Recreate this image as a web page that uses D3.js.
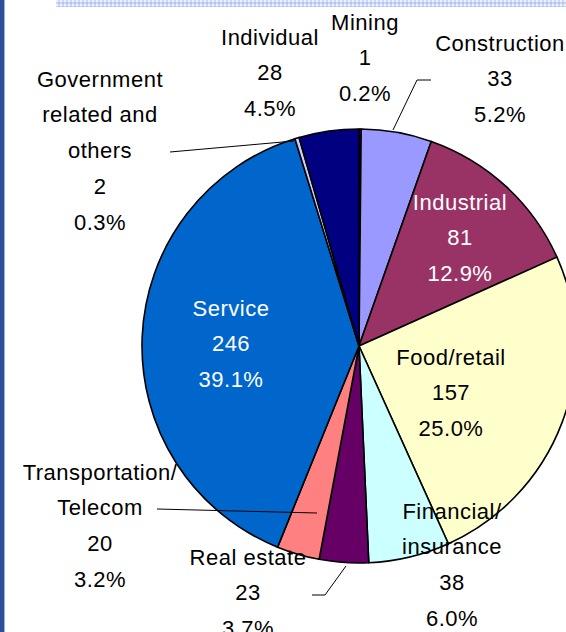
<!DOCTYPE html>
<html>
<head>
<meta charset="utf-8">
<script src="https://cdn.jsdelivr.net/npm/d3@7"></script>
<style>
  html, body { margin: 0; padding: 0; background: #ffffff; }
  svg { display: block; }
</style>
</head>
<body>
<svg id="chart" width="566" height="632"></svg>
<script>
// Sectors, clockwise from 12 o'clock
const sectors = ["Mining", "Construction", "Industrial", "Food/retail", "Financial/insurance",
                 "Real estate", "Transportation/Telecom", "Service", "Government related and others", "Individual"];
const counts  = [1, 33, 81, 157, 38, 23, 20, 246, 2, 28];
const shares  = ["0.2%", "5.2%", "12.9%", "25.0%", "6.0%", "3.7%", "3.2%", "39.1%", "0.3%", "4.5%"];
const colors  = ["#FF00FF", "#9999FF", "#993366", "#FFFFCC", "#CCFFFF",
                 "#660066", "#FF8080", "#0066CC", "#CCCCFF", "#000080"];
// Label lines (name broken where the chart breaks it)
const labelLines = [
  ["Mining"], ["Construction"], ["Industrial"], ["Food/retail"], ["Financial/", "insurance"],
  ["Real estate"], ["Transportation/", "Telecom"], ["Service"], ["Government", "related and", "others"], ["Individual"]
];

const svg = d3.select("#chart");
const W = 566, H = 632;
const cx = 359, cy = 346, R = 217;

// Left frame rule
svg.append("rect").attr("x", 0).attr("y", 0).attr("width", 4).attr("height", H).attr("fill", "#2E4D9B");
svg.append("rect").attr("x", 4).attr("y", 0).attr("width", 1).attr("height", H).attr("fill", "#9DB0DA");

// Checkered band along the top
const defs = svg.append("defs");
const pat = defs.append("pattern").attr("id", "band").attr("patternUnits", "userSpaceOnUse")
  .attr("width", 4).attr("height", 4);
pat.append("rect").attr("width", 4).attr("height", 4).attr("fill", "#C9D6F7");
pat.append("rect").attr("width", 2).attr("height", 2).attr("fill", "#EEF2FD");
pat.append("rect").attr("x", 2).attr("y", 2).attr("width", 2).attr("height", 2).attr("fill", "#B3C6F2");
svg.append("rect").attr("x", 56).attr("y", 0).attr("width", W - 56).attr("height", 7).attr("fill", "url(#band)");

// Pie
const pie = d3.pie().sort(null).value(d => d)(counts);
const arc = d3.arc().innerRadius(0).outerRadius(R);
const g = svg.append("g").attr("transform", `translate(${cx},${cy})`);
g.selectAll("path").data(pie).join("path")
  .attr("d", arc)
  .attr("fill", (d, i) => colors[i])
  .attr("stroke", "#000")
  .attr("stroke-width", 1.6)
  .attr("stroke-linejoin", "round");

// Labels: [center x, first line middle y, fill]
const labelPos = [
  [365, 22, "#000"],   // Mining
  [500, 43, "#000"],   // Construction
  [460, 202, "#fff"],  // Industrial
  [451, 357, "#000"],  // Food/retail
  [452, 511, "#000"],  // Financial/insurance
  [248, 557, "#000"],  // Real estate
  [100, 472, "#000"],  // Transportation/Telecom
  [231, 308, "#fff"],  // Service
  [100, 79, "#000"],   // Government
  [270, 37, "#000"]    // Individual
];
const lineGap = 35.7;

const labels = svg.append("g")
  .attr("font-family", "'Liberation Sans', Arial, sans-serif")
  .attr("font-size", 22)
  .attr("letter-spacing", 0.5)
  .attr("text-anchor", "middle");

sectors.forEach((name, i) => {
  const [x, y0, fill] = labelPos[i];
  const lines = labelLines[i].concat([String(counts[i]), shares[i]]);
  const t = labels.append("text").attr("fill", fill);
  lines.forEach((ln, k) => {
    t.append("tspan").attr("x", x).attr("y", y0 + k * lineGap).attr("dy", "0.35em").text(ln);
  });
});

// Leader lines for the labels placed outside their slices
const leaders = [
  [[393, 130], [417, 80], [431, 80]],   // Construction
  [[170, 152], [294, 141]],             // Government
  [[157, 509], [317, 513]],             // Transportation/Telecom
  [[312, 595], [325, 595], [346, 566]]  // Real estate
];
svg.append("g").selectAll("path").data(leaders).join("path")
  .attr("d", d3.line())
  .attr("fill", "none")
  .attr("stroke", "#000")
  .attr("stroke-width", 1);
</script>
</body>
</html>
